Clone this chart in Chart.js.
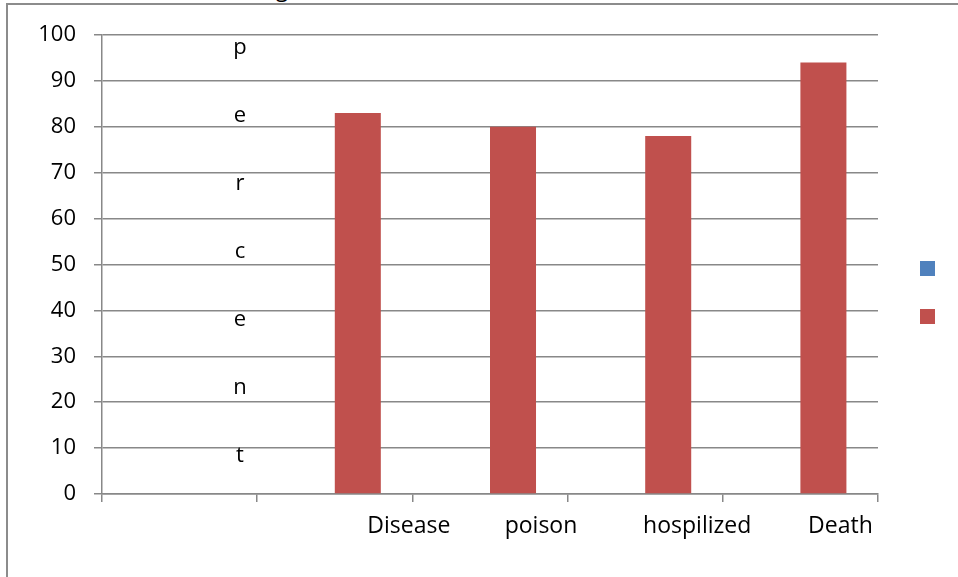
<!DOCTYPE html>
<html>
<head>
<meta charset="utf-8">
<script src="https://cdn.jsdelivr.net/npm/chart.js@4"></script>
<style>
  html, body { margin: 0; padding: 0; background: #fff; }
  #wrap { position: relative; width: 958px; height: 577px; overflow: hidden; }
  #frame { position: absolute; left: 6px; top: 3px; width: 952px; height: 574px;
           border-left: 2px solid #8c8c8c; border-top: 2px solid #8c8c8c; box-sizing: border-box; }
  #cut { position: absolute; left: 276px; top: -27px; font: 22px 'Open Sans'; color: #000; line-height: 30px; }
  #box { position: absolute; left: 0; top: 0; width: 958px; height: 577px; }
</style>
</head>
<body>
<div id="wrap">
  <div id="cut">g</div>
  <div id="frame"></div>
  <div id="box"><canvas id="c"></canvas></div>
</div>
<script>
// ---- data ----
const categories = ["", "Disease", "poison", "hospilized", "Death"];
const series1Values = [null, null, null, null, null];
const series2Values = [null, 83, 80, 78, 94];
const yTicks = [0, 10, 20, 30, 40, 50, 60, 70, 80, 90, 100];
const axisWord = "percent";

// ---- styles ----
const gridColor = '#888888';
const labelShift = [0, 74, 51, 52, 40];

const overlay = {
  id: 'overlay',
  afterDraw(chart) {
    const ctx = chart.ctx;
    const a = chart.chartArea;
    const xs = chart.scales.x;
    ctx.save();
    ctx.fillStyle = '#000';
    // vertical letters of the axis word
    ctx.font = "22px 'Open Sans'";
    ctx.textAlign = 'center';
    ctx.textBaseline = 'alphabetic';
    axisWord.split('').forEach((ch, i) => {
      ctx.fillText(ch, a.left + 138, a.top + 19 + 68 * i);
    });
    // category labels
    ctx.font = "23px 'Open Sans'";
    categories.forEach((lab, i) => {
      if (!lab) return;
      ctx.fillText(lab, xs.getPixelForValue(i) + labelShift[i], 533);
    });
    // legend boxes
    chart.data.datasets.forEach((ds, i) => {
      ctx.fillStyle = ds.backgroundColor;
      ctx.fillRect(a.right + 42, 261 + 48 * i, 15, 15);
    });
    ctx.restore();
  }
};

new Chart(document.getElementById('c'), {
  type: 'bar',
  data: {
    labels: categories,
    datasets: [
      { label: '', data: series1Values, backgroundColor: '#4F81BD' },
      { label: '', data: series2Values, backgroundColor: '#C0504D' }
    ]
  },
  plugins: [overlay],
  options: {
    responsive: true,
    maintainAspectRatio: false,
    animation: false,
    layout: { padding: { left: 0, right: 80, top: 35, bottom: 0 } },
    plugins: { legend: { display: false }, tooltip: { enabled: false } },
    datasets: { bar: { categoryPercentage: 0.593, barPercentage: 1.0 } },
    scales: {
      x: {
        offset: true,
        grid: { offset: true, drawOnChartArea: false, drawTicks: true, tickLength: 8, color: gridColor, lineWidth: 1.5 },
        border: { display: true, color: gridColor, width: 1.5 },
        ticks: { display: false },
        afterFit(s) { s.height = 83; }
      },
      y: {
        min: 0, max: 100,
        afterBuildTicks(s) { s.ticks = yTicks.map(v => ({ value: v })); },
        grid: { color: gridColor, lineWidth: 1.5, tickLength: 8, drawTicks: true },
        border: { display: true, color: gridColor, width: 1.5 },
        ticks: { color: '#000', padding: 18, font: { family: "'Open Sans'", size: 22 } },
        afterFit(s) { s.width = 102; }
      }
    }
  }
});
</script>
</body>
</html>
